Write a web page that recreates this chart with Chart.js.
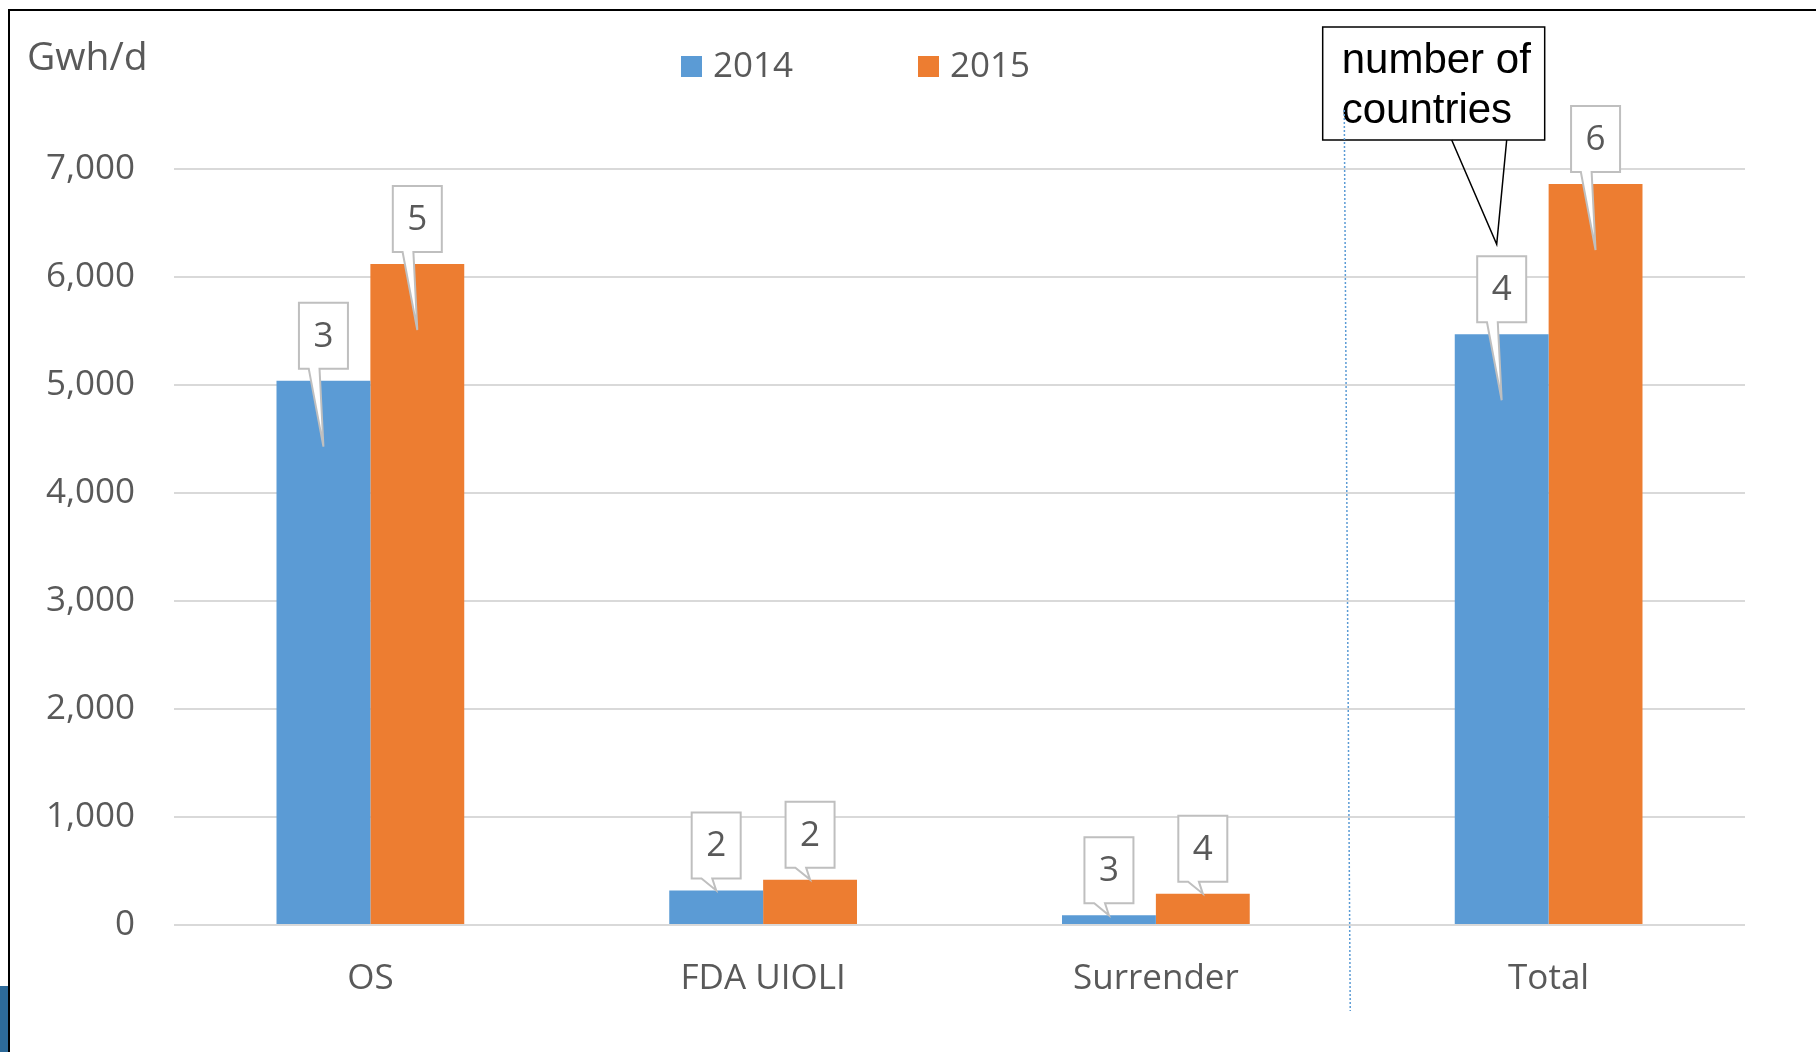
<!DOCTYPE html>
<html lang="en">
<head>
  <meta charset="UTF-8">
  <title>Gwh/d by mechanism</title>
  <script src="https://cdn.jsdelivr.net/npm/chart.js"></script>
  <style>
    html, body { margin: 0; padding: 0; background: #fff; }
    canvas { display: block; }
  </style>
</head>
<body>
  <canvas id="chart" width="1816" height="1052"></canvas>

  <script>
    const categories = ['OS', 'FDA UIOLI', 'Surrender', 'Total'];
    const values2014 = [5040, 320, 90, 5470];
    const values2015 = [6120, 420, 290, 6860];
    const countries2014 = [3, 2, 3, 4];
    const countries2015 = [5, 2, 4, 6];
    const seriesLabels = ['2014', '2015'];
    const yTicks = [0, 1000, 2000, 3000, 4000, 5000, 6000, 7000];

    const FONT = '"Open Sans", "Noto Sans", sans-serif';
    const GREY = '#595959';
    const BLUE = '#5b9bd5';
    const ORANGE = '#ed7d31';

    // small speech-bubble box above each bar with the number of countries
    function drawCallout(ctx, bar, text, base) {
      const w = 49, h = 66;
      const tipY = (base - bar.y) > 200 ? bar.y + 66 : bar.y;
      const left = bar.x - w / 2;
      const bottom = bar.y - 12;
      const top = bottom - h;
      ctx.beginPath();
      ctx.moveTo(left, top);
      ctx.lineTo(left + w, top);
      ctx.lineTo(left + w, bottom);
      ctx.lineTo(left + w * 0.42, bottom);
      ctx.lineTo(bar.x, tipY);
      ctx.lineTo(left + w * 0.2, bottom);
      ctx.lineTo(left, bottom);
      ctx.closePath();
      ctx.fillStyle = '#fff';
      ctx.fill();
      ctx.strokeStyle = '#bfbfbf';
      ctx.lineWidth = 2;
      ctx.stroke();
      ctx.fillStyle = GREY;
      ctx.font = '35px ' + FONT;
      ctx.textAlign = 'center';
      ctx.textBaseline = 'middle';
      ctx.fillText(text, bar.x, top + h / 2 + 1);
    }

    const decor = {
      id: 'decor',
      afterDatasetsDraw(chart) {
        const ctx = chart.ctx;
        const base = chart.scales.y.getPixelForValue(0);
        const counts = [countries2014, countries2015];
        ctx.save();
        chart.data.datasets.forEach((ds, i) => {
          chart.getDatasetMeta(i).data.forEach((bar, j) => {
            drawCallout(ctx, bar, String(counts[i][j]), base);
          });
        });
        ctx.restore();
      },
      afterDraw(chart) {
        const ctx = chart.ctx;
        const x = chart.scales.x;
        ctx.save();

        // frame
        ctx.strokeStyle = '#000';
        ctx.lineWidth = 2;
        ctx.beginPath();
        ctx.moveTo(9, 1052);
        ctx.lineTo(9, 10);
        ctx.lineTo(1816, 10);
        ctx.stroke();
        ctx.fillStyle = '#2d6a99';
        ctx.fillRect(0, 986, 8, 66);

        // unit label
        ctx.fillStyle = GREY;
        ctx.font = '39px ' + FONT;
        ctx.textAlign = 'left';
        ctx.textBaseline = 'middle';
        ctx.fillText('Gwh/d', 27, 59);

        // legend
        const legendX = [681, 918];
        ctx.font = '35px ' + FONT;
        chart.data.datasets.forEach((ds, i) => {
          ctx.fillStyle = ds.backgroundColor;
          ctx.fillRect(legendX[i], 56, 21, 21);
          ctx.fillStyle = GREY;
          ctx.fillText(ds.label, legendX[i] + 32, 67);
        });

        // "number of countries" annotation, anchored on the Total 2014 bar
        const tb = chart.getDatasetMeta(0).data[3];
        const bx = tb.x;
        const tipY = tb.y - 90;
        ctx.strokeStyle = '#000';
        ctx.lineWidth = 1.5;
        ctx.fillStyle = '#fff';
        ctx.beginPath();
        ctx.rect(bx - 179, 27, 222, 113);
        ctx.fill();
        ctx.stroke();
        ctx.beginPath();
        ctx.moveTo(bx - 50, 140);
        ctx.lineTo(bx - 5, tipY);
        ctx.lineTo(bx + 5, 140);
        ctx.stroke();
        ctx.fillStyle = '#000';
        ctx.font = '42px "Liberation Sans", Arial, sans-serif';
        ctx.textAlign = 'left';
        ctx.fillText('number of', bx - 160, 61);
        ctx.fillText('countries', bx - 160, 111);

        // dotted separator before Total
        const mid = (x.getPixelForTick(2) + x.getPixelForTick(3)) / 2;
        ctx.strokeStyle = BLUE;
        ctx.lineWidth = 1.5;
        ctx.setLineDash([2, 2]);
        ctx.beginPath();
        ctx.moveTo(mid - 8, 110);
        ctx.lineTo(mid - 2, 1011);
        ctx.stroke();
        ctx.restore();
      }
    };

    new Chart(document.getElementById('chart'), {
      type: 'bar',
      data: {
        labels: categories,
        datasets: [
          { label: seriesLabels[0], data: values2014, backgroundColor: BLUE },
          { label: seriesLabels[1], data: values2015, backgroundColor: ORANGE }
        ]
      },
      options: {
        responsive: false,
        animation: false,
        categoryPercentage: 0.478,
        barPercentage: 1,
        layout: { padding: { left: 0, top: 169, right: 71, bottom: 0 } },
        plugins: { legend: { display: false }, tooltip: { enabled: false } },
        scales: {
          x: {
            grid: { display: false, drawTicks: false },
            border: { display: false },
            ticks: { color: GREY, font: { family: FONT, size: 35 }, padding: 33 },
            afterFit(scale) { scale.height = 127; }
          },
          y: {
            min: yTicks[0],
            max: yTicks[yTicks.length - 1],
            afterBuildTicks(scale) { scale.ticks = yTicks.map(v => ({ value: v })); },
            grid: { color: '#d9d9d9', lineWidth: 2, drawTicks: false },
            border: { display: false },
            ticks: {
              color: GREY,
              font: { family: FONT, size: 35 },
              padding: 39,
              callback: v => v.toLocaleString('en-US')
            },
            afterFit(scale) { scale.width = 174; }
          }
        }
      },
      plugins: [decor]
    });
  </script>
</body>
</html>
